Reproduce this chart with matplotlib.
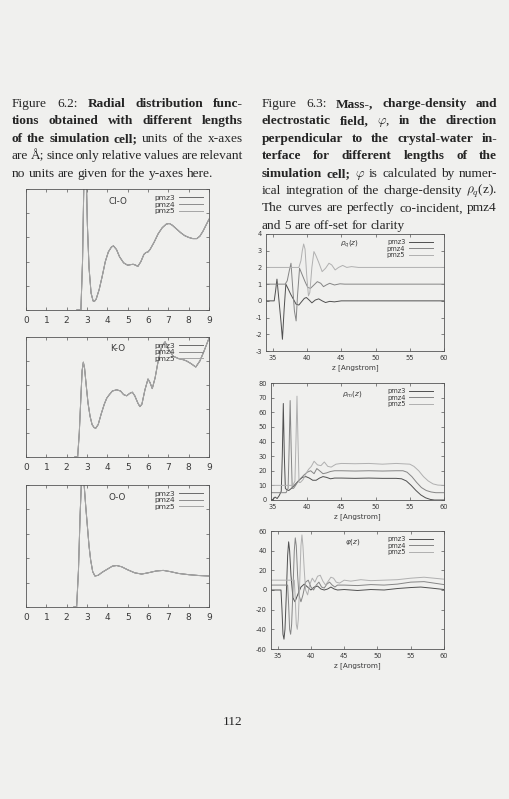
import numpy as np
import matplotlib
matplotlib.use('Agg')
import matplotlib.pyplot as plt

plt.rcParams['axes.unicode_minus'] = False

W, H = 510, 799

# ---- left column: radial distribution functions (arbitrary units, 0..1 box) ----
r_clo = [2.50, 2.70, 2.78, 2.85, 2.90, 2.95, 3.02, 3.10, 3.20, 3.30, 3.36, 3.45, 3.60, 3.75,
         3.90, 4.05, 4.20, 4.30, 4.45, 4.60, 4.80, 5.00, 5.15, 5.27, 5.40, 5.50, 5.65, 5.80,
         5.90, 6.00, 6.10, 6.30, 6.50, 6.70, 6.90, 7.05, 7.20, 7.40, 7.60, 7.80, 8.00, 8.20,
         8.40, 8.55, 8.70, 8.85, 9.00]
g_clo = [0.0, 0.0, 0.4, 1.1, 1.5, 1.2, 0.7, 0.35, 0.14, 0.075, 0.07, 0.09, 0.17, 0.28,
         0.40, 0.48, 0.52, 0.53, 0.50, 0.44, 0.39, 0.37, 0.375, 0.378, 0.37, 0.36, 0.40, 0.46,
         0.475, 0.48, 0.50, 0.56, 0.63, 0.68, 0.71, 0.715, 0.70, 0.67, 0.64, 0.615, 0.60, 0.59,
         0.59, 0.61, 0.65, 0.70, 0.75]

r_ko = [2.40, 2.54, 2.62, 2.70, 2.76, 2.82, 2.88, 2.96, 3.05, 3.15, 3.25, 3.35, 3.43, 3.55,
        3.70, 3.85, 3.97, 4.10, 4.25, 4.46, 4.65, 4.80, 4.95, 5.10, 5.23, 5.35, 5.50, 5.60,
        5.70, 5.85, 6.00, 6.10, 6.21, 6.35, 6.50, 6.67, 6.84, 7.00, 7.24, 7.50, 7.75, 7.90,
        8.10, 8.35, 8.55, 8.75, 9.00]
g_ko = [0.0, 0.0, 0.2, 0.5, 0.72, 0.79, 0.74, 0.60, 0.45, 0.34, 0.27, 0.245, 0.24, 0.27,
        0.36, 0.44, 0.49, 0.52, 0.55, 0.56, 0.55, 0.52, 0.51, 0.53, 0.54, 0.51, 0.45, 0.42,
        0.44, 0.56, 0.65, 0.62, 0.57, 0.66, 0.80, 0.92, 0.96, 0.90, 0.84, 0.82, 0.81, 0.80,
        0.78, 0.75, 0.80, 0.88, 0.99]

r_oo = [2.35, 2.49, 2.58, 2.66, 2.72, 2.79, 2.86, 2.94, 3.02, 3.10, 3.18, 3.28, 3.39, 3.55,
        3.75, 4.00, 4.25, 4.46, 4.70, 5.00, 5.35, 5.69, 6.00, 6.40, 6.75, 7.10, 7.50, 8.00,
        8.50, 9.00]
g_oo = [0.0, 0.0, 0.3, 0.75, 1.0, 1.15, 1.0, 0.82, 0.66, 0.50, 0.385, 0.29, 0.254, 0.26,
        0.285, 0.31, 0.335, 0.34, 0.33, 0.305, 0.28, 0.27, 0.28, 0.295, 0.30, 0.29, 0.275, 0.265,
        0.258, 0.254]

rdf_panels = [('Cl-O', r_clo, g_clo), ('K-O', r_ko, g_ko), ('O-O', r_oo, g_oo)]
series = ['pmz3', 'pmz4', 'pmz5']

# ---- right column: charge density, mass density, field ----
zq3 = [34.0, 35.2, 35.4, 35.6, 35.9, 36.2, 36.4, 36.65, 36.9, 37.2, 37.6, 38.0, 38.4, 38.8,
       39.2, 39.6, 39.9, 40.3, 40.7, 41.2, 41.7, 42.2, 42.7, 43.3, 44.0, 45.0, 60.0]
q3 = [0, 0, 0.6, 1.3, 0.0, -1.3, -2.3, -0.5, 1.0, 0.75, 0.4, 0.1, -0.2, -0.25,
      -0.05, 0.15, 0.2, 0.05, -0.12, 0.05, 0.12, 0.0, -0.1, -0.03, -0.06, 0.0, 0.0]
zq4 = [34.0, 36.8, 37.1, 37.4, 37.65, 37.9, 38.15, 38.4, 38.6, 38.9, 39.3, 39.7, 40.1, 40.5,
       41.0, 41.5, 42.0, 42.4, 42.8, 43.3, 44.0, 44.8, 45.5, 60.0]
q4 = [1, 1, 1.2, 1.8, 2.25, 0.8, -0.6, -1.2, 0.3, 1.95, 1.55, 1.15, 0.8, 0.75,
      0.95, 1.15, 1.05, 0.85, 0.95, 1.05, 0.95, 1.02, 1.0, 1.0]
zq5 = [34.0, 38.8, 39.1, 39.3, 39.5, 39.7, 39.95, 40.2, 40.4, 40.7, 41.0, 41.3, 41.7, 42.2,
       42.7, 43.2, 43.6, 44.1, 44.6, 45.2, 45.8, 46.5, 47.5, 60.0]
q5 = [2, 2, 2.4, 3.0, 3.4, 3.1, 1.5, 0.3, 0.5, 2.0, 2.95, 2.7, 2.3, 1.75,
      1.95, 2.25, 2.15, 1.85, 2.0, 2.12, 2.0, 2.05, 2.0, 2.0]

zm3 = [34.7, 35.0, 35.3, 35.6, 35.9, 36.2, 36.35, 36.5, 36.65, 36.8, 37.0, 37.3, 37.7, 38.1,
       38.5, 38.9, 39.3, 39.8, 40.3, 40.8, 41.3, 41.8, 42.3, 42.8, 43.4, 44.0, 45.0, 47.0,
       49.0, 51.0, 53.0, 53.8, 54.5, 55.2, 55.9, 56.6, 57.3, 58.0, 58.6, 60.0]
m3 = [0, 0.5, 2.0, 1.0, 3.0, 6.0, 30, 66, 30, 8, 7, 6.5, 8, 10,
      12, 14, 15.5, 16, 15, 13.5, 13.5, 15, 16, 15.5, 14.5, 15, 15, 14.8,
      15, 14.8, 14.8, 14.5, 13, 10, 6.5, 3.5, 1.5, 0.4, 0, 0]
zm4 = [34.7, 36.9, 37.2, 37.35, 37.5, 37.65, 37.8, 38.0, 38.3, 38.7, 39.1, 39.5, 40.0, 40.5,
       41.0, 41.4, 41.8, 42.3, 42.8, 43.4, 44.0, 45.0, 47.0, 49.0, 51.0, 53.0, 54.0, 54.6,
       55.3, 56.0, 56.7, 57.4, 58.1, 58.8, 60.0]
m4 = [5, 5, 8, 35, 68, 35, 8, 8, 10, 13, 15, 17, 19, 20,
      18, 21.5, 20, 18, 18.5, 19.5, 20, 20, 19.8, 20, 19.8, 20, 20, 19,
      16, 12, 8.5, 6.5, 5.5, 5, 5]
zm5 = [34.7, 37.9, 38.2, 38.35, 38.5, 38.65, 38.8, 39.0, 39.4, 39.8, 40.2, 40.6, 41.0, 41.5,
       42.0, 42.5, 43.0, 43.5, 44.2, 45.0, 47.0, 49.0, 51.0, 53.0, 55.0, 55.6, 56.3, 57.0,
       57.7, 58.4, 59.1, 60.0]
m5 = [10, 10, 13, 40, 71, 40, 12, 12, 14, 18, 21, 23, 26.5, 24,
      23.5, 26, 23, 22.5, 24.5, 25, 24.8, 25, 24.5, 25, 24.5, 23, 20, 16,
      13, 11, 10.2, 10]

zp3 = [34.0, 35.5, 35.65, 35.8, 35.95, 36.1, 36.3, 36.5, 36.65, 36.8, 37.0, 37.3, 37.6, 38.0,
       38.5, 39.0, 39.5, 40.0, 40.5, 41.0, 41.5, 42.0, 42.5, 43.0, 43.5, 44.0, 45.0, 47.0,
       49.0, 51.0, 53.0, 55.0, 56.5, 58.0, 60.0]
p3 = [0, 0, -20, -45, -50, -40, -5, 35, 49, 40, 15, -8, -12, -5,
      3, 6, 3, 0, 3, 4, 1, 0, 1, 3, 1, 0, 0.5, -0.5,
      0.5, 0, 1.5, 2.5, 3, 2, 0.5]
zp4 = [34.0, 36.5, 36.65, 36.8, 36.95, 37.1, 37.3, 37.5, 37.65, 37.8, 38.0, 38.2, 38.5, 38.8,
       39.2, 39.6, 40.0, 40.4, 40.8, 41.2, 41.6, 42.0, 42.4, 42.8, 43.2, 43.6, 44.0, 45.0,
       47.0, 49.0, 51.0, 53.0, 55.0, 57.0, 58.5, 60.0]
p4 = [5, 5, -15, -40, -45, -35, 0, 40, 53, 45, 15, -5, -12, -5,
      8, 10, 3, 0, 5, 8, 3, 2, 6, 8, 5, 3, 5, 5,
      4.5, 5.5, 5, 6, 8, 8.5, 7, 5.5]
zp5 = [34.0, 37.5, 37.65, 37.8, 37.95, 38.1, 38.3, 38.5, 38.65, 38.8, 39.0, 39.2, 39.5, 39.8,
       40.2, 40.6, 41.0, 41.4, 41.8, 42.2, 42.6, 43.0, 43.4, 43.8, 44.3, 45.0, 46.0, 47.5,
       49.0, 51.0, 53.0, 55.0, 57.0, 58.5, 60.0]
p5 = [10, 10, -10, -35, -40, -30, 5, 45, 56, 45, 20, 0, -5, 5,
      12, 8, 14, 15, 9, 5, 9, 13, 12, 8, 7, 10, 9, 10.5,
      9.5, 10, 10.5, 12, 13, 12, 11]

right_panels = [
    (r'$\rho_q(z)$', [(zq3, q3), (zq4, q4), (zq5, q5)], (34, 60), (-3, 4), range(-3, 5)),
    (r'$\rho_m(z)$', [(zm3, m3), (zm4, m4), (zm5, m5)], (34.7, 60), (0, 80), range(0, 81, 10)),
    (r'$\varphi(z)$', [(zp3, p3), (zp4, p4), (zp5, p5)], (34, 60), (-60, 60), range(-60, 61, 20)),
]

# pixel boxes (left, top, right, bottom)
left_boxes = [(26, 189, 209, 310), (26, 337, 209, 457), (26, 485, 209, 607)]
right_boxes = [(266, 234, 444, 351), (271, 383, 444, 500), (271, 531, 444, 649)]
shades = ['#505050', '#858585', '#b0b0b0']
bg = '#f0f0ee'
ink = '#3a3a3a'

fig = plt.figure(figsize=(W / 100, H / 100), dpi=100, facecolor=bg)


def box_axes(b):
    l, t, r, bt = b
    ax = fig.add_axes([l / W, 1 - bt / H, (r - l) / W, (bt - t) / H])
    ax.set_facecolor('none')
    for s in ax.spines.values():
        s.set_color('#555555')
        s.set_linewidth(0.6)
    ax.tick_params(direction='in', top=True, right=True, length=2.2, width=0.5,
                   colors='#555555', labelcolor=ink)
    return ax


for (name, r, g), b in zip(rdf_panels, left_boxes):
    ax = box_axes(b)
    for s, c in zip(series, ['#6a6a6a', '#8c8c8c', '#a5a5a5']):
        ax.plot(r, g, color=c, lw=0.7, label=s)
    ax.set_xlim(0, 9)
    ax.set_ylim(0, 1)
    ax.set_xticks(range(10))
    ax.set_yticks(np.linspace(0, 1, 6))
    ax.tick_params(axis='x', labelsize=6.5, pad=4)
    ax.tick_params(axis='y', labelleft=False)
    ax.text(0.50, 0.90, name, transform=ax.transAxes, fontsize=6.3, color=ink,
            ha='center', va='center', family='DejaVu Sans')
    ax.legend(loc='upper right', bbox_to_anchor=(1.0, 1.0), frameon=False, markerfirst=False,
              fontsize=5.4, handlelength=3.2, labelspacing=0.05, borderpad=0.25,
              handletextpad=0.6, labelcolor=ink)

for (lab, data, xl, yl, yt), b in zip(right_panels, right_boxes):
    ax = box_axes(b)
    for (z, v), s, c in zip(data, series, shades):
        ax.plot(z, v, color=c, lw=0.7, label=s)
    ax.set_xlim(*xl)
    ax.set_ylim(*yl)
    ax.set_xticks(range(35, 61, 5))
    ax.set_yticks(list(yt))
    ax.tick_params(labelsize=4.8, pad=3)
    ax.set_xlabel('z [Angstrom]', fontsize=5.2, color=ink, labelpad=2)
    ax.text(0.47, 0.91, lab, transform=ax.transAxes, fontsize=5.2, color=ink,
            ha='center', va='center', math_fontfamily='dejavusans')
    ax.legend(loc='upper right', bbox_to_anchor=(0.97, 1.0), frameon=False, markerfirst=False,
              fontsize=4.8, handlelength=3.6, labelspacing=0.05, borderpad=0.3,
              handletextpad=0.6, labelcolor=ink)

# ---- captions (justified, word by word) ----
cap_left = [
    ([('Figure 6.2:', 'normal'), ('Radial distribution func-', 'bold')], True),
    ([('tions obtained with different lengths', 'bold')], True),
    ([('of the simulation cell;', 'bold'), ('units of the x-axes', 'normal')], True),
    ([('are Å; since only relative values are relevant', 'normal')], True),
    ([('no units are given for the y-axes here.', 'normal')], False),
]
cap_right = [
    ([('Figure 6.3:', 'normal'), ('Mass-, charge-density and', 'bold')], True),
    ([('electrostatic field,', 'bold'), (r'$\varphi$,', 'normal'), ('in the direction', 'bold')], True),
    ([('perpendicular to the crystal-water in-', 'bold')], True),
    ([('terface for different lengths of the', 'bold')], True),
    ([('simulation cell;', 'bold'), (r'$\varphi$ is calculated by numer-', 'normal')], True),
    ([(r'ical integration of the charge-density $\rho_q$(z).', 'normal')], True),
    ([('The curves are perfectly co-incident, pmz4', 'normal')], True),
    ([('and 5 are off-set for clarity', 'normal')], False),
]

renderer = fig.canvas.get_renderer()


def caption(lines, x0, x1, y0, dy, size=9.6):
    for i, (segs, justify) in enumerate(lines):
        y = y0 + i * dy
        words = []
        for txt, wt in segs:
            for wd in txt.split(' '):
                words.append((wd, wt))
        objs = [fig.text(0, 1 - y / H, wd, fontsize=size, weight=wt, color='#252525',
                         family='Liberation Serif', va='baseline', math_fontfamily='cm')
                for wd, wt in words]
        widths = [o.get_window_extent(renderer).width for o in objs]
        if justify and len(objs) > 1:
            gap = (x1 - x0 - sum(widths)) / (len(objs) - 1)
        else:
            gap = size * 0.33
        x = x0
        for o, w in zip(objs, widths):
            o.set_x(x / W)
            x += w + gap


caption(cap_left, 12, 243, 107, 17.4)
caption(cap_right, 262, 497, 107, 17.4)

fig.text(233 / W, 1 - 725 / H, '112', fontsize=9.6, family='Liberation Serif',
         color='#252525', ha='center', va='baseline')

fig.savefig('out.png', dpi=100, facecolor=bg)
